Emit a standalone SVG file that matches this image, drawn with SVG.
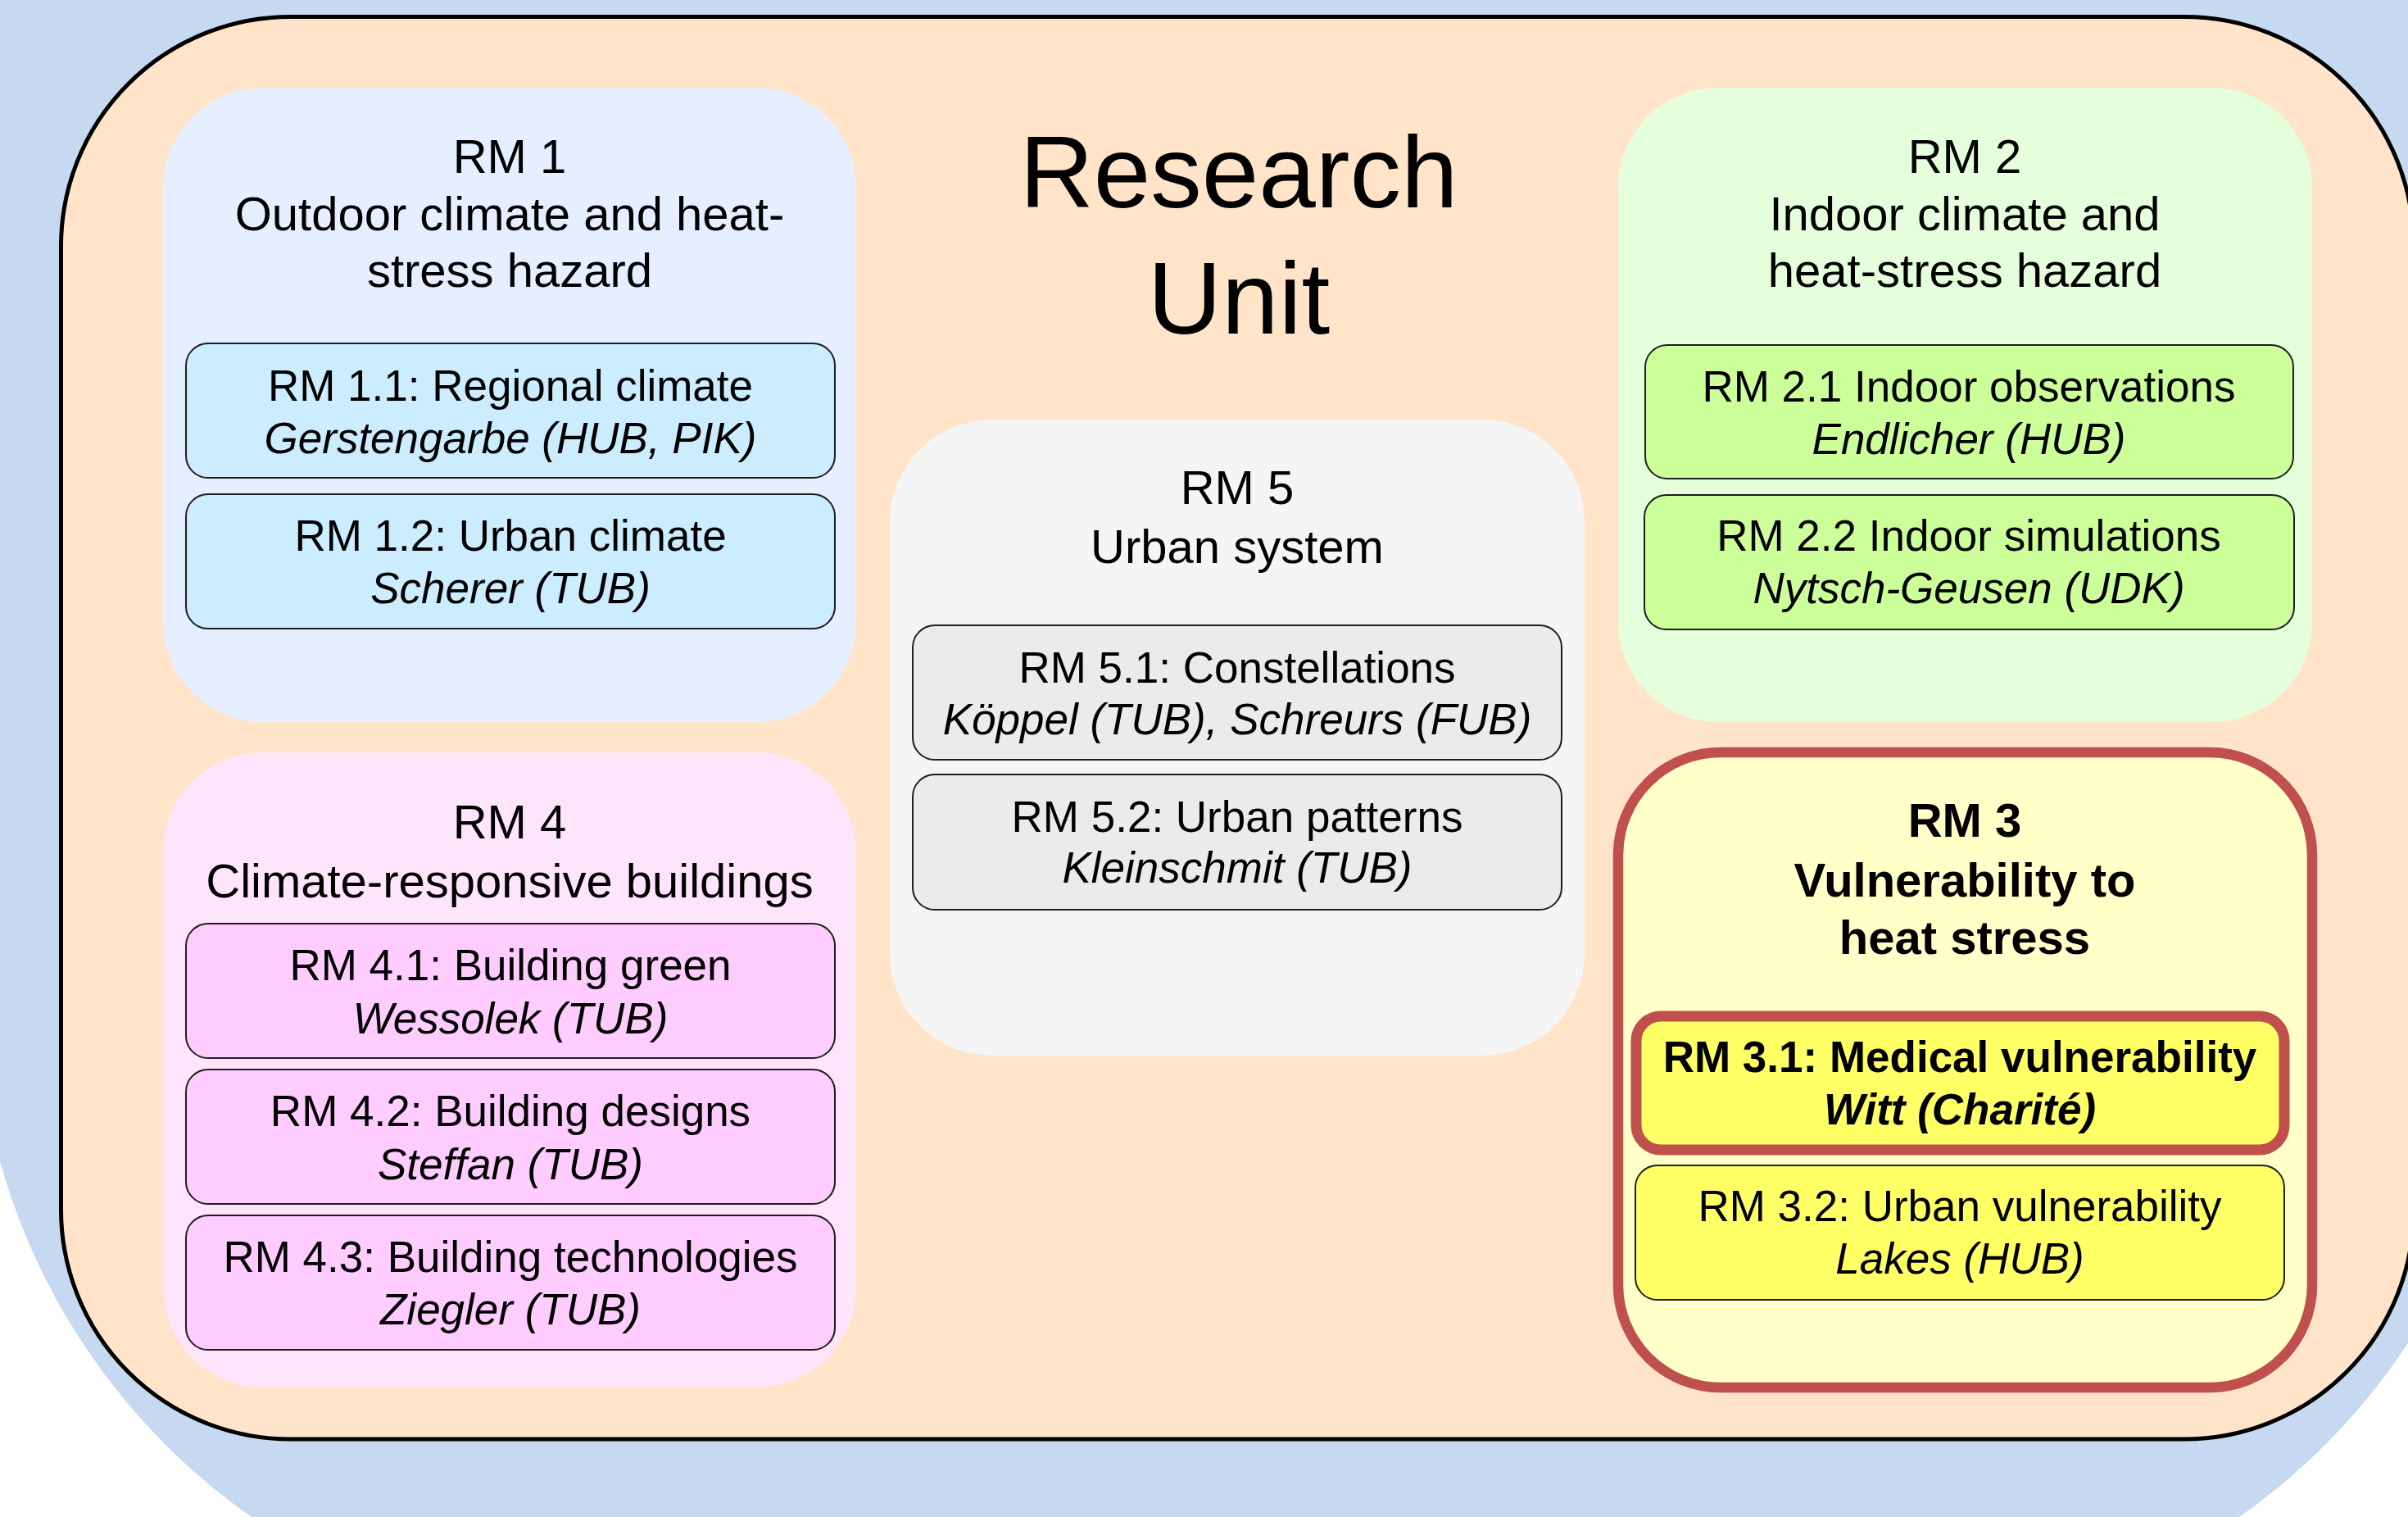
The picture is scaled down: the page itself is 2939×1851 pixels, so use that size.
<svg xmlns="http://www.w3.org/2000/svg" width="2939" height="1851" viewBox="0 0 2939 1851">
<style>
  text { font-family: "Liberation Sans", Arial, sans-serif; fill: #000; text-anchor: middle; }
  .t { font-size: 58px; }
  .b { font-size: 53px; }
  .i { font-style: italic; }
  .bold { font-weight: bold; }
  .big { font-size: 125px; }
  .sub { stroke: #1e1e1e; stroke-width: 2; }
</style>
<rect x="0" y="0" width="2939" height="1851" fill="#ffffff"/>
<rect id="background" x="-29" y="-800" width="3098" height="2794" rx="789" ry="789" fill="#c6d9f1"/>
<g id="research-unit">
  <rect x="74.5" y="20.5" width="2871.5" height="1735.5" rx="280" ry="280" fill="#ffe4c9" stroke="#000" stroke-width="5"/>
  <text class="big" x="1512" y="253">Research</text>
  <text class="big" x="1512" y="407">Unit</text>
</g>
<g id="rm1">
  <rect x="199" y="107" width="846" height="774" rx="122" ry="122" fill="#e5efff"/>
  <text class="t" x="622" y="211">RM 1</text>
  <text class="t" x="622" y="281">Outdoor climate and heat-</text>
  <text class="t" x="622" y="350">stress hazard</text>
</g>
<g id="rm1-1">
  <rect class="sub" x="227" y="419" width="792" height="164" rx="27" ry="27" fill="#ccecff"/>
  <text class="b" x="623" y="489">RM 1.1: Regional climate</text>
  <text class="b i" x="623" y="553">Gerstengarbe (HUB, PIK)</text>
</g>
<g id="rm1-2">
  <rect class="sub" x="227" y="603" width="792" height="164" rx="27" ry="27" fill="#ccecff"/>
  <text class="b" x="623" y="672">RM 1.2: Urban climate</text>
  <text class="b i" x="623" y="736">Scherer (TUB)</text>
</g>
<g id="rm2">
  <rect x="1975" y="107" width="847" height="774" rx="122" ry="122" fill="#e5ffdc"/>
  <text class="t" x="2398" y="211">RM 2</text>
  <text class="t" x="2398" y="281">Indoor climate and</text>
  <text class="t" x="2398" y="350">heat-stress hazard</text>
</g>
<g id="rm2-1">
  <rect class="sub" x="2008" y="421" width="791" height="163" rx="27" ry="27" fill="#ccff99"/>
  <text class="b" x="2403" y="490">RM 2.1 Indoor observations</text>
  <text class="b i" x="2403" y="554">Endlicher (HUB)</text>
</g>
<g id="rm2-2">
  <rect class="sub" x="2007" y="604" width="793" height="164" rx="27" ry="27" fill="#ccff99"/>
  <text class="b" x="2403" y="672">RM 2.2 Indoor simulations</text>
  <text class="b i" x="2403" y="736">Nytsch-Geusen (UDK)</text>
</g>
<g id="rm5">
  <rect x="1086" y="512" width="848" height="776" rx="125" ry="125" fill="#f5f5f5"/>
  <text class="t" x="1510" y="615">RM 5</text>
  <text class="t" x="1510" y="687">Urban system</text>
</g>
<g id="rm5-1">
  <rect class="sub" x="1114" y="763" width="792" height="164" rx="27" ry="27" fill="#ebebeb"/>
  <text class="b" x="1510" y="833">RM 5.1: Constellations</text>
  <text class="b i" x="1510" y="896">Köppel (TUB), Schreurs (FUB)</text>
</g>
<g id="rm5-2">
  <rect class="sub" x="1114" y="945" width="792" height="165" rx="27" ry="27" fill="#ebebeb"/>
  <text class="b" x="1510" y="1015">RM 5.2: Urban patterns</text>
  <text class="b i" x="1510" y="1077">Kleinschmit (TUB)</text>
</g>
<g id="rm4">
  <rect x="199" y="918" width="846" height="775" rx="122" ry="122" fill="#ffe5fc"/>
  <text class="t" x="622" y="1023">RM 4</text>
  <text class="t" x="622" y="1095">Climate-responsive buildings</text>
</g>
<g id="rm4-1">
  <rect class="sub" x="227" y="1127" width="792" height="164" rx="27" ry="27" fill="#ffccff"/>
  <text class="b" x="623" y="1196">RM 4.1: Building green</text>
  <text class="b i" x="623" y="1261">Wessolek (TUB)</text>
</g>
<g id="rm4-2">
  <rect class="sub" x="227" y="1305" width="792" height="164" rx="27" ry="27" fill="#ffccff"/>
  <text class="b" x="623" y="1374">RM 4.2: Building designs</text>
  <text class="b i" x="623" y="1439">Steffan (TUB)</text>
</g>
<g id="rm4-3">
  <rect class="sub" x="227" y="1483" width="792" height="164" rx="27" ry="27" fill="#ffccff"/>
  <text class="b" x="623" y="1552">RM 4.3: Building technologies</text>
  <text class="b i" x="623" y="1616">Ziegler (TUB)</text>
</g>
<g id="rm3">
  <rect x="1975" y="918" width="847" height="775" rx="125" ry="125" fill="#ffffc8" stroke="#c0504d" stroke-width="12.5"/>
  <text class="t bold" x="2398" y="1021">RM 3</text>
  <text class="t bold" x="2398" y="1094">Vulnerability to</text>
  <text class="t bold" x="2398" y="1164">heat stress</text>
</g>
<g id="rm3-1">
  <rect x="1997" y="1240" width="791" height="163" rx="30" ry="30" fill="#ffff66" stroke="#c0504d" stroke-width="13"/>
  <text class="b bold" x="2392" y="1308">RM 3.1: Medical vulnerability</text>
  <text class="b bold i" x="2392" y="1372">Witt (Charité)</text>
</g>
<g id="rm3-2">
  <rect class="sub" x="1996" y="1422" width="792" height="164" rx="27" ry="27" fill="#ffff66"/>
  <text class="b" x="2392" y="1490">RM 3.2: Urban vulnerability</text>
  <text class="b i" x="2392" y="1554">Lakes (HUB)</text>
</g>
<g id="connectors"></g>
</svg>
